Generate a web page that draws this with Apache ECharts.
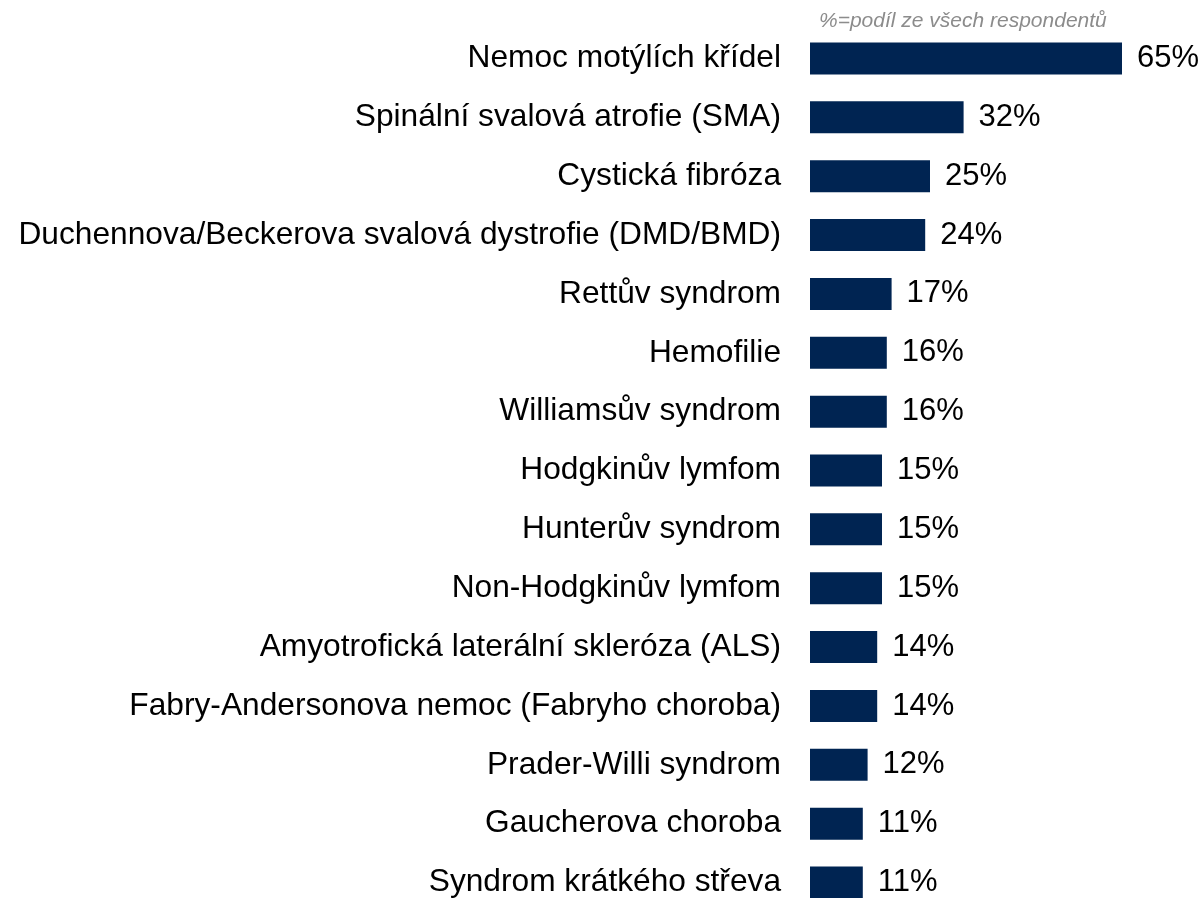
<!DOCTYPE html>
<html>
<head>
<meta charset="utf-8">
<script src="https://cdn.jsdelivr.net/npm/echarts@6/dist/echarts.min.js"></script>
<style>
  html, body { margin: 0; padding: 0; background: #fff; overflow: hidden; }
  #chart { width: 1203px; height: 930px; }
</style>
</head>
<body>
<div id="chart"></div>
<script>
const categories = [
  'Nemoc motýlích křídel',
  'Spinální svalová atrofie (SMA)',
  'Cystická fibróza',
  'Duchennova/Beckerova svalová dystrofie (DMD/BMD)',
  'Rettův syndrom',
  'Hemofilie',
  'Williamsův syndrom',
  'Hodgkinův lymfom',
  'Hunterův syndrom',
  'Non-Hodgkinův lymfom',
  'Amyotrofická laterální skleróza (ALS)',
  'Fabry-Andersonova nemoc (Fabryho choroba)',
  'Prader-Willi syndrom',
  'Gaucherova choroba',
  'Syndrom krátkého střeva'
];
const shares = [65, 32, 25, 24, 17, 16, 16, 15, 15, 15, 14, 14, 12, 11, 11];
const note = '%=podíl ze všech respondentů';

const chart = echarts.init(document.getElementById('chart'));
const font = 'Arial, "Liberation Sans", sans-serif';

chart.setOption({
  animation: false,
  title: {
    text: note,
    left: 814,
    top: 6,
    textStyle: {
      fontFamily: font,
      fontSize: 21,
      fontStyle: 'italic',
      fontWeight: 'normal',
      color: '#8c8c8c'
    }
  },
  grid: {
    left: 810,
    top: 29,
    width: 384,
    height: 883
  },
  xAxis: {
    type: 'value',
    min: 0,
    max: 80,
    show: false
  },
  yAxis: {
    type: 'category',
    data: categories,
    inverse: true,
    axisLine: { show: false },
    axisTick: { show: false },
    axisLabel: {
      margin: 29,
      fontFamily: font,
      fontSize: 31.7,
      color: '#000'
    }
  },
  series: [{
    type: 'bar',
    data: shares,
    barWidth: 32,
    itemStyle: { color: '#002452' },
    label: {
      show: true,
      position: 'right',
      distance: 15,
      formatter: p => p.value + '%',
      fontFamily: font,
      fontSize: 31,
      color: '#000'
    }
  }]
});
</script>
</body>
</html>
